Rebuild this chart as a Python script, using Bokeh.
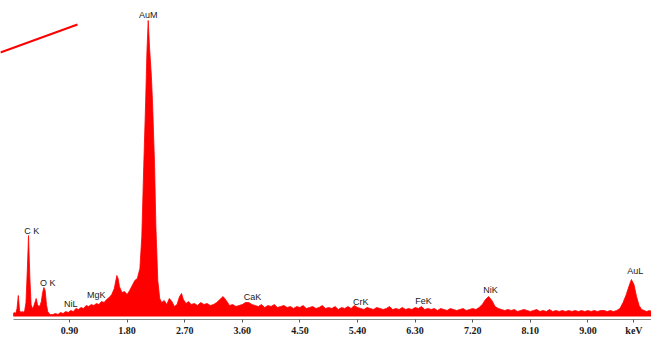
from bokeh.plotting import figure
from bokeh.models import Range1d, FixedTicker, Label
from bokeh.embed import file_html
from bokeh.resources import INLINE

# ---- data (energy in keV, counts) ----
energy = [0.02, 0.04, 0.06, 0.08, 0.10, 0.12, 0.14, 0.16, 0.18, 0.20,
          0.22, 0.24, 0.26, 0.28, 0.30, 0.32, 0.34, 0.36, 0.38, 0.40,
          0.42, 0.44, 0.46, 0.48, 0.50, 0.52, 0.54, 0.56, 0.58, 0.60,
          0.64, 0.68, 0.72, 0.76, 0.80, 0.84, 0.88, 0.92, 0.96, 1.00,
          1.04, 1.08, 1.12, 1.16, 1.20, 1.24, 1.28, 1.32, 1.36, 1.40,
          1.44, 1.48, 1.52, 1.56, 1.60, 1.64, 1.66, 1.68, 1.72, 1.76,
          1.80, 1.84, 1.88, 1.92, 1.96, 2.00, 2.03, 2.06, 2.09, 2.11,
          2.13, 2.15, 2.18, 2.20, 2.23, 2.25, 2.28, 2.31, 2.34, 2.38,
          2.42, 2.46, 2.50, 2.54, 2.58, 2.62, 2.65, 2.68, 2.72, 2.76,
          2.80, 2.85, 2.90, 2.95, 3.00, 3.05, 3.10, 3.15, 3.20, 3.25,
          3.30, 3.35, 3.40, 3.45, 3.50, 3.55, 3.60, 3.65, 3.70, 3.75,
          3.80, 3.85, 3.90, 3.95, 4.00, 4.05, 4.10, 4.15, 4.20, 4.25,
          4.30, 4.35, 4.40, 4.45, 4.50, 4.55, 4.60, 4.65, 4.70, 4.75,
          4.80, 4.85, 4.90, 4.95, 5.00, 5.05, 5.10, 5.15, 5.20, 5.25,
          5.30, 5.35, 5.40, 5.45, 5.50, 5.55, 5.60, 5.65, 5.70, 5.75,
          5.80, 5.85, 5.90, 5.95, 6.00, 6.05, 6.10, 6.15, 6.20, 6.25,
          6.30, 6.35, 6.40, 6.45, 6.50, 6.55, 6.60, 6.65, 6.70, 6.75,
          6.80, 6.85, 6.90, 6.95, 7.00, 7.05, 7.10, 7.15, 7.20, 7.25,
          7.30, 7.35, 7.40, 7.45, 7.50, 7.55, 7.60, 7.65, 7.70, 7.75,
          7.80, 7.85, 7.90, 7.95, 8.00, 8.05, 8.10, 8.15, 8.20, 8.25,
          8.30, 8.35, 8.40, 8.45, 8.50, 8.55, 8.60, 8.65, 8.70, 8.75,
          8.80, 8.85, 8.90, 8.95, 9.00, 9.05, 9.10, 9.15, 9.20, 9.25,
          9.30, 9.35, 9.40, 9.45, 9.50, 9.55, 9.60, 9.64, 9.68, 9.72,
          9.76, 9.80, 9.84, 9.88, 9.92, 9.96, 10.00]

counts = [30, 40, 30, 80, 210, 60, 40, 50, 40, 60,
          140, 450, 810, 400, 120, 80, 100, 140, 180, 120,
          100, 110, 150, 240, 290, 260, 120, 50, 30, 20,
          20, 30, 20, 40, 30, 50, 40, 60, 50, 80,
          70, 90, 80, 110, 100, 120, 110, 130, 120, 150,
          140, 170, 190, 220, 280, 410, 380, 300, 240, 250,
          220, 260, 310, 360, 380, 480, 800, 1500, 2150, 2650,
          2960, 2700, 2400, 2100, 1500, 900, 360, 180, 140, 160,
          120, 180, 150, 100, 120, 200, 230, 170, 130, 150,
          120, 130, 110, 140, 120, 130, 110, 120, 140, 170,
          200, 160, 110, 120, 100, 110, 120, 140, 140, 120,
          110, 100, 120, 90, 110, 100, 120, 90, 100, 110,
          90, 100, 80, 100, 90, 110, 80, 90, 100, 80,
          90, 110, 80, 90, 80, 100, 70, 90, 80, 100,
          80, 110, 90, 80, 70, 90, 80, 70, 90, 80,
          70, 80, 100, 70, 80, 70, 90, 70, 80, 70,
          90, 80, 100, 70, 80, 70, 80, 60, 80, 70,
          60, 80, 70, 60, 70, 80, 60, 70, 80, 70,
          90, 120, 170, 200, 160, 100, 80, 70, 60, 70,
          60, 70, 50, 60, 70, 60, 50, 60, 70, 50,
          60, 50, 70, 50, 60, 50, 60, 50, 60, 50,
          60, 50, 60, 50, 60, 50, 60, 50, 60, 60,
          50, 60, 50, 60, 80, 140, 220, 300, 370, 320,
          200, 110, 70, 60, 50, 60, 50]

tick_values = [0.90, 1.80, 2.70, 3.60, 4.50, 5.40, 6.30, 7.20, 8.10, 9.00]
unit_label = "keV"
unit_tick = 9.72

peak_names = ["AuM", "C K", "O K", "NiL", "MgK", "CaK", "CrK", "FeK", "NiK", "AuL"]
peak_x = [2.13, 0.31, 0.56, 0.92, 1.32, 3.76, 5.45, 6.43, 7.48, 9.74]
peak_y = [3020, 860, 340, 130, 220, 200, 150, 160, 265, 460]

# annotation stroke (top-left)
mark_x = [-0.18, 1.025]
mark_y = [2640, 2920]

RED = "#ff0000"
TEXT = "#1a1a1a"

p = figure(width=651, height=340, output_backend="svg", toolbar_location=None,
           x_range=Range1d(-0.178, 9.994), y_range=Range1d(-30, 3140),
           min_border_left=0, min_border_right=0, min_border_top=2,
           min_border_bottom=21, y_axis_location=None)
p.outline_line_color = None
p.xgrid.visible = False
p.ygrid.visible = False
p.background_fill_color = "white"
p.border_fill_color = "white"

p.varea(x=energy, y1=0, y2=counts, fill_color=RED, fill_alpha=1.0)
p.line(x=energy, y=counts, line_color=RED, line_width=0.8)

p.line(x=mark_x, y=mark_y, line_color=RED, line_width=2)

ax = p.xaxis[0]
ax.ticker = FixedTicker(ticks=tick_values + [unit_tick])
overrides = {v: f"{v:.2f}" for v in tick_values}
overrides[unit_tick] = unit_label
ax.major_label_overrides = overrides
ax.bounds = (0.025, 9.994)
ax.axis_line_color = "#8a8a8a"
ax.axis_line_width = 1
ax.major_tick_line_color = "#555555"
ax.major_tick_in = 0
ax.major_tick_out = 3
ax.minor_tick_line_color = None
ax.major_label_standoff = 2
ax.major_label_text_font = "Liberation Serif"
ax.major_label_text_font_style = "bold"
ax.major_label_text_font_size = "10px"
ax.major_label_text_color = TEXT

for name, x, y in zip(peak_names, peak_x, peak_y):
    p.add_layout(Label(x=x, y=y, text=name, text_align="center",
                       text_baseline="middle", text_font="Liberation Sans",
                       text_font_size="9px", text_color=TEXT))

open("out.html", "w").write(file_html(p, INLINE))
